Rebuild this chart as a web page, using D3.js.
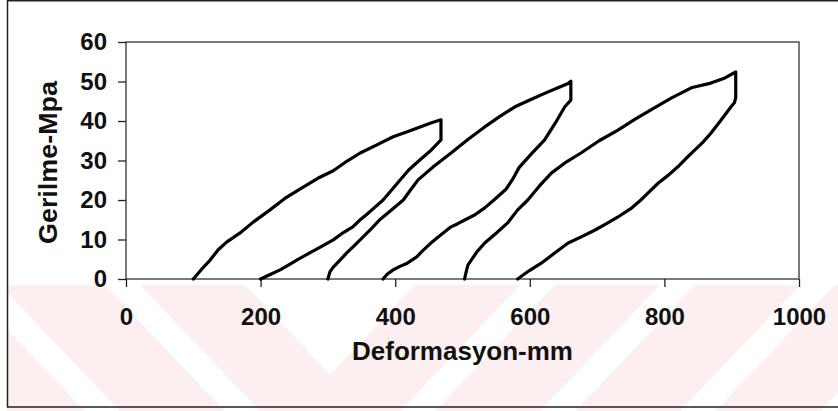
<!DOCTYPE html>
<html>
<head>
<meta charset="utf-8">
<script src="https://cdn.jsdelivr.net/npm/d3@7"></script>
<style>
  html, body { margin: 0; padding: 0; background: #fff; }
  svg { display: block; }
  text { font-family: "Liberation Sans", Arial, sans-serif; fill: #111; }
</style>
</head>
<body>
<svg id="chart" width="838" height="411"></svg>
<script>
// Stress–deformation hysteresis: three load/unload cycles, [deformation (mm), stress (MPa)]
const cycle1 = [
  [100,0],[113,2.6],[125,4.8],[137,7.4],[150,9.4],[169,11.6],[189,14.4],[214,17.5],
  [236,20.4],[259,22.8],[285,25.5],[308,27.4],[328,29.8],[348,31.9],[372,33.9],
  [397,36],[420,37.4],[437,38.5],[453,39.5],[468,40.3],
  [468,35.2],[452,32.4],[437,30.2],[420,27.6],[407,25],[395,22.6],[382,20],
  [370,18.2],[358,16.4],[348,15],[337,13.2],[320,11.4],[308,9.9],[290,8.2],
  [273,6.6],[255,4.9],[240,3.4],[229,2.3],[215,1.2],[200,0]
];
const cycle2 = [
  [300,0],[303,1.8],[308,3],[318,4.8],[328,6.6],[340,8.6],[352,10.6],[365,12.8],
  [377,15],[394,17.4],[412,20],[423,22.6],[434,25.1],[458,28.6],[483,31.9],
  [508,35.3],[533,38.5],[555,41.1],[578,43.6],[600,45.3],[622,47],[640,48.3],
  [657,49.5],[661,50.1],
  [661,45.3],[652,43.6],[638,39.5],[622,35.2],[602,31.6],[584,28.2],[575,25.4],
  [565,22.8],[548,20.2],[533,18],[518,16.2],[504,15],[493,14],[483,13.2],
  [468,11.2],[453,9.1],[441,7.2],[432,5.6],[418,4],[407,3.2],[397,2.3],
  [388,1.2],[382,0]
];
const cycle3 = [
  [503,0],[505,1.5],[508,3.5],[513,4.8],[522,7],[533,9.1],[550,11.6],[567,14.2],
  [582,17.5],[597,20],[614,23.5],[632,26.8],[654,29.6],[676,31.9],[703,35],
  [731,37.7],[756,40.4],[780,42.8],[810,45.8],[840,48.4],[869,49.6],[890,50.9],
  [906,52.4],
  [906,46],[904,44.6],[899,43.6],[884,40.2],[869,36.9],[857,34.6],[845,32.6],
  [832,30.5],[820,28.4],[806,26.3],[791,24.3],[777,22],[765,20],[750,17.8],
  [731,15.7],[714,14],[697,12.4],[678,10.8],[657,9.1],[637,6.6],[617,4],
  [600,2.2],[590,1],[582,0]
];
const cycles = [cycle1, cycle2, cycle3];

const xTicks = [0, 200, 400, 600, 800, 1000];
const yTicks = [0, 10, 20, 30, 40, 50, 60];
const xTitle = "Deformasyon-mm";
const yTitle = "Gerilme-Mpa";

const svg = d3.select("#chart");
const W = 838, H = 411;
const plot = { left: 126, right: 799, top: 42, bottom: 279 };

const x = d3.scaleLinear().domain([0, 1000]).range([plot.left, plot.right]);
const y = d3.scaleLinear().domain([0, 60]).range([plot.bottom, plot.top]);

// faint pink chevron band along the bottom of the page
const band = { top: 285, bottom: 411, left: 7, cx: 330, slope: 0.95 };
svg.append("defs").append("clipPath").attr("id", "bandClip")
  .append("rect")
  .attr("x", band.left).attr("y", band.top)
  .attr("width", W - band.left).attr("height", band.bottom - band.top);
const stripes = [[85,190],[225,330],[365,470],[505,610],[645,750]];
svg.append("g").attr("clip-path", "url(#bandClip)")
  .selectAll("polygon").data(stripes).join("polygon")
  .attr("fill", "#fdeef0")
  .attr("points", ([a, b]) => {
    const t = band.top, c = band.cx, s = band.slope;
    return [
      [c - b, t], [c, t + b / s], [c + b, t],
      [c + a, t], [c, t + a / s], [c - a, t]
    ].map(p => p.join(",")).join(" ");
  });

// outer page frame
svg.append("path")
  .attr("d", `M${W + 2},0.75 H7.5 V407 H${W + 2}`)
  .attr("fill", "none").attr("stroke", "#222").attr("stroke-width", 1.5);

// plot frame
svg.append("rect")
  .attr("x", plot.left).attr("y", plot.top)
  .attr("width", plot.right - plot.left).attr("height", plot.bottom - plot.top)
  .attr("fill", "none").attr("stroke", "#333").attr("stroke-width", 1.3);

// axes
const yAxis = svg.append("g")
  .attr("transform", `translate(${plot.left},0)`)
  .call(d3.axisLeft(y).tickValues(yTicks).tickSize(8).tickPadding(11).tickFormat(d3.format("d")));
const xAxis = svg.append("g")
  .attr("transform", `translate(0,${plot.bottom})`)
  .call(d3.axisBottom(x).tickValues(xTicks).tickSize(8).tickPadding(21).tickFormat(d3.format("d")));
[xAxis, yAxis].forEach(g => {
  g.select(".domain").remove();
  g.selectAll(".tick line").attr("stroke", "#222").attr("stroke-width", 1.3);
  g.selectAll(".tick text")
    .attr("fill", "#111")
    .style("font-family", '"Liberation Sans", Arial, sans-serif')
    .style("font-size", "24px")
    .style("font-weight", "bold");
});

// axis titles
svg.append("text")
  .attr("x", (plot.left + plot.right) / 2).attr("y", 360)
  .attr("text-anchor", "middle")
  .attr("textLength", 221).attr("lengthAdjust", "spacingAndGlyphs")
  .style("font-size", "25px").style("font-weight", "bold")
  .text(xTitle);
svg.append("text")
  .attr("transform", `translate(57,${(plot.top + plot.bottom) / 2 + 2}) rotate(-90)`)
  .attr("text-anchor", "middle")
  .attr("textLength", 163).attr("lengthAdjust", "spacingAndGlyphs")
  .style("font-size", "25px").style("font-weight", "bold")
  .text(yTitle);

// hysteresis loops
const line = d3.line().x(d => x(d[0])).y(d => y(d[1]));
svg.append("g").selectAll("path").data(cycles).join("path")
  .attr("d", line)
  .attr("fill", "none")
  .attr("stroke", "#000")
  .attr("stroke-width", 3.2)
  .attr("stroke-linejoin", "round")
  .attr("stroke-linecap", "round");
</script>
</body>
</html>
